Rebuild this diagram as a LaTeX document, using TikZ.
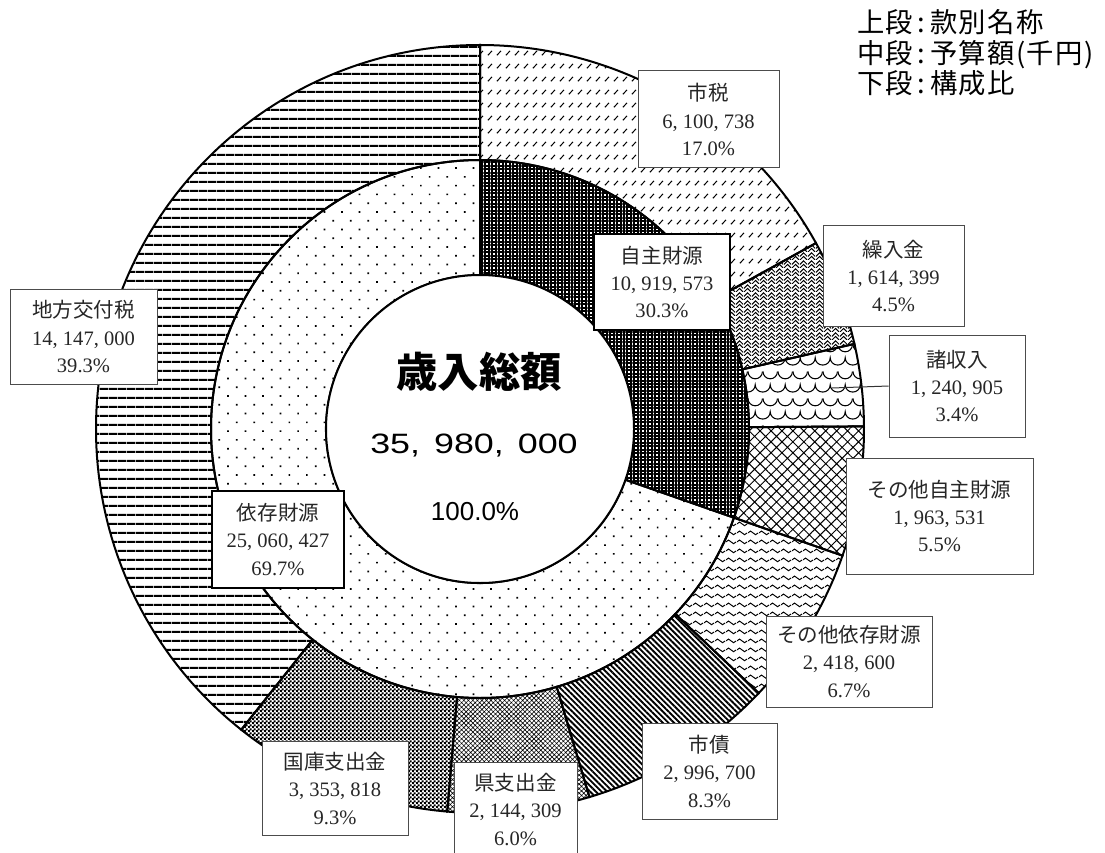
\documentclass[tikz,border=0pt]{standalone}
\usepackage{fontspec}
\setmainfont{Liberation Serif}
\newfontfamily\jp{Noto Sans CJK JP}
\newfontfamily\jplegend[LetterSpace=5]{Noto Sans CJK JP}
\newfontfamily\gothnum[FakeStretch=1.28]{Liberation Sans}
\newfontfamily\gothpct{Liberation Sans}
\usetikzlibrary{patterns.meta}

% fill patterns of the ring segments
\tikzdeclarepattern{
  name=dashdiag, type=uncolored,
  bottom left={(0pt,0pt)}, top right={(6.75pt,9.75pt)},
  tile size={(6.75pt,9.75pt)},
  code={
    \draw[line width=0.85pt] (1.5pt,3pt) -- (5pt,6.5pt);
  }
}
\tikzdeclarepattern{
  name=chevron, type=uncolored,
  bottom left={(0pt,0pt)}, top right={(6pt,6pt)},
  tile size={(6pt,6pt)},
  code={
    \draw[line width=0.8pt] (0pt,0pt) -- (3pt,3pt) -- (6pt,0pt)
      (0pt,3pt) -- (3pt,6pt) -- (6pt,3pt);
  }
}
\tikzdeclarepattern{
  name=scales, type=uncolored,
  bottom left={(0pt,0pt)}, top right={(11pt,20pt)},
  tile size={(11pt,20pt)},
  code={
    \draw[line width=0.8pt] (0pt,20pt) arc[start angle=180, end angle=360, radius=5.5pt]
      (-5.5pt,10pt) arc[start angle=180, end angle=360, radius=5.5pt]
      arc[start angle=180, end angle=360, radius=5.5pt];
  }
}
\tikzdeclarepattern{
  name=waves, type=uncolored,
  bottom left={(0pt,0pt)}, top right={(8.25pt,6.75pt)},
  tile size={(8.25pt,6.75pt)},
  code={
    \draw[line width=0.8pt] (0pt,3.4pt) sin (2.06pt,4.9pt) cos (4.125pt,3.4pt)
      sin (6.19pt,1.9pt) cos (8.25pt,3.4pt);
  }
}
\tikzdeclarepattern{
  name=checks, type=uncolored,
  bottom left={(0pt,0pt)}, top right={(3pt,3pt)},
  tile size={(3pt,3pt)},
  code={
    \fill (0pt,0pt) rectangle (1.8pt,1.8pt) (1.5pt,1.5pt) rectangle (3.3pt,3.3pt);
  }
}

\tikzset{
  ring/.style={draw=black, line width=1.5pt},
  lbl/.style={draw=black!70, line width=0.75pt, fill=white, align=center,
    inner sep=0pt, text=black!85, font=\fontsize{15.4}{20.6}\selectfont},
  lblbold/.style={lbl, draw=black, line width=1.7pt},
  lead/.style={draw=black!80, line width=0.75pt}
}

\begin{document}
\begin{tikzpicture}[x=0.75pt, y=0.75pt]
  \useasboundingbox (0,0) rectangle (1105,-852);

  \begin{scope}[shift={(480,-429)}]
    % outer ring
    \draw[ring, pattern=dashdiag] (90:269) arc[start angle=90, end angle=28.959, radius=269]
      -- (28.959:384) arc[start angle=28.959, end angle=90, radius=384] -- cycle;
    \draw[ring, pattern=chevron] (28.959:269) arc[start angle=28.959, end angle=12.806, radius=269]
      -- (12.806:384) arc[start angle=12.806, end angle=28.959, radius=384] -- cycle;
    \draw[ring, pattern=scales] (12.806:269) arc[start angle=12.806, end angle=0.390, radius=269]
      -- (0.390:384) arc[start angle=0.390, end angle=12.806, radius=384] -- cycle;
    \draw[ring, pattern={Hatch[angle=45, distance=5.8pt, line width=0.75pt]}]
      (0.390:269) arc[start angle=0.390, end angle=-19.256, radius=269]
      -- (-19.256:384) arc[start angle=-19.256, end angle=0.390, radius=384] -- cycle;
    \draw[ring, pattern=waves] (-19.256:269) arc[start angle=-19.256, end angle=-43.455, radius=269]
      -- (-43.455:384) arc[start angle=-43.455, end angle=-19.256, radius=384] -- cycle;
    \draw[ring, pattern={Lines[angle=-45, distance=3pt, line width=1.4pt]}]
      (-43.455:269) arc[start angle=-43.455, end angle=-73.439, radius=269]
      -- (-73.439:384) arc[start angle=-73.439, end angle=-43.455, radius=384] -- cycle;
    \draw[ring, pattern={Hatch[angle=45, distance=2.4pt, line width=0.45pt]}]
      (-73.439:269) arc[start angle=-73.439, end angle=-94.894, radius=269]
      -- (-94.894:384) arc[start angle=-94.894, end angle=-73.439, radius=384] -- cycle;
    \draw[ring, pattern=checks] (-94.894:269) arc[start angle=-94.894, end angle=-128.451, radius=269]
      -- (-128.451:384) arc[start angle=-128.451, end angle=-94.894, radius=384] -- cycle;
    \draw[ring, pattern={Lines[angle=0, distance=6.5pt, line width=1.5pt]}]
      (-128.451:269) arc[start angle=-128.451, end angle=-270, radius=269]
      -- (-270:384) arc[start angle=-270, end angle=-128.451, radius=384] -- cycle;

    % inner ring
    \draw[ring, pattern={Hatch[angle=0, distance=2.6pt, line width=1.5pt]}]
      (90:154) arc[start angle=90, end angle=-19.256, radius=154]
      -- (-19.256:269) arc[start angle=-19.256, end angle=90, radius=269] -- cycle;
    \draw[ring, pattern={Dots[angle=45, distance=9.3pt, radius=0.9pt]}]
      (-19.256:154) arc[start angle=-19.256, end angle=-270, radius=154]
      -- (-270:269) arc[start angle=-270, end angle=-19.256, radius=269] -- cycle;

    % centre
    \draw[ring, fill=white] (0,0) circle[radius=154];
  \end{scope}

  \node (title) at (479,-372) {\jp\bfseries\fontsize{31}{31}\selectfont 歳入総額};
  \node (total) at (474,-446) {\gothnum\fontsize{21}{21}\selectfont 35,\hspace{0.5em}980,\hspace{0.5em}000};
  \node (share) at (475,-512) {\gothpct\fontsize{19.5}{19.5}\selectfont 100.0\%};

  % leader line
  \coordinate (shoP) at (832,-388);

  % labels
  \node[lbl, minimum width=105.75pt, minimum height=72.75pt] (shizei) at (708.5,-119.5)
    {{\jp 市税}\\6, 100, 738\\17.0\%};
  \node[lblbold, minimum width=102pt, minimum height=72pt] (jishu) at (662,-282)
    {{\jp 自主財源}\\10, 919, 573\\30.3\%};
  \node[lbl, minimum width=105.75pt, minimum height=75pt] (kuriire) at (893.5,-276)
    {{\jp 繰入金}\\1, 614, 399\\4.5\%};
  \node[lbl, minimum width=102pt, minimum height=76.5pt] (shoshu) at (957,-386)
    {{\jp 諸収入}\\1, 240, 905\\3.4\%};
  \draw[lead] (shoP) -- (shoshu.west);
  \node[lbl, minimum width=140.25pt, minimum height=87pt] (sonotaji) at (939.5,-516)
    {{\jp その他自主財源}\\1, 963, 531\\5.5\%};
  \node[lbl, minimum width=124.5pt, minimum height=68.25pt] (sonotaiz) at (849,-661.5)
    {{\jp その他依存財源}\\2, 418, 600\\6.7\%};
  \node[lbl, minimum width=101.25pt, minimum height=72pt] (shisai) at (709.5,-771)
    {{\jp 市債}\\2, 996, 700\\8.3\%};
  \node[lbl, minimum width=92.25pt, minimum height=71.25pt] (kenshi) at (515.5,-809.5)
    {{\jp 県支出金}\\2, 144, 309\\6.0\%};
  \node[lbl, minimum width=109.5pt, minimum height=70.5pt] (kokko) at (335,-788.5)
    {{\jp 国庫支出金}\\3, 353, 818\\9.3\%};
  \node[lblbold, minimum width=99pt, minimum height=72.75pt] (izon) at (278,-539.5)
    {{\jp 依存財源}\\25, 060, 427\\69.7\%};
  \node[lbl, minimum width=110.25pt, minimum height=71.25pt] (chiho) at (83.5,-336.5)
    {{\jp 地方交付税}\\14, 147, 000\\39.3\%};

  % legend
  \node[anchor=west, align=left, inner sep=0pt, font=\jplegend\fontsize{20.5}{23}\selectfont]
    (legend) at (857,-53) {上段\,:\,款別名称\\中段\,:\,予算額(千円)\\下段\,:\,構成比};
\end{tikzpicture}
\end{document}
